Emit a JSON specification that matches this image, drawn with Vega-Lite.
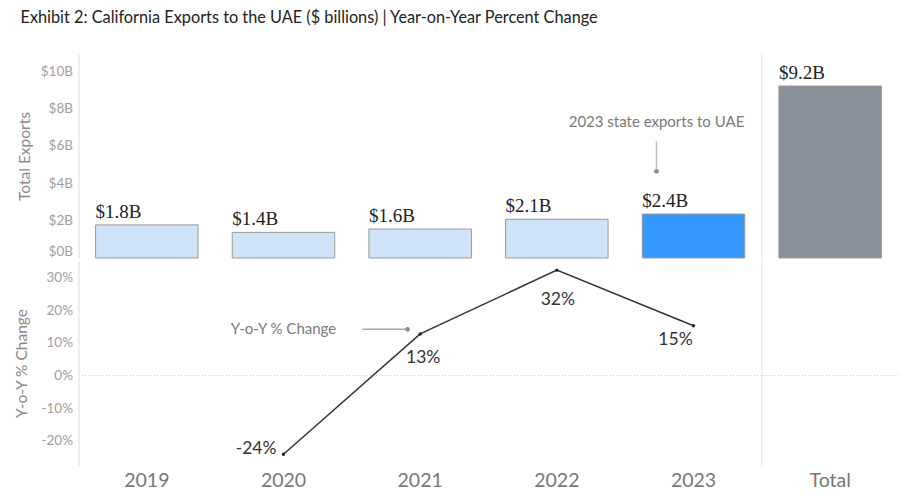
{
  "$schema": "https://vega.github.io/schema/vega-lite/v6.json",
  "padding": {"left": 13.5, "top": 10, "right": 0, "bottom": 3},
  "spacing": 0,
  "title": {
    "text": "Exhibit 2: California Exports to the UAE ($ billions) | Year-on-Year Percent Change",
    "anchor": "start",
    "offset": 27,
    "dx": 6.5,
    "font": "Lato",
    "fontSize": 16.3,
    "fontWeight": "normal",
    "color": "#222222"
  },
  "data": {
    "values": [
      {"year": "2019", "exports": 1.77, "label": "$1.8B"},
      {"year": "2020", "exports": 1.37, "label": "$1.4B", "pct": -24.1, "pctLabel": "-24%"},
      {"year": "2021", "exports": 1.55, "label": "$1.6B", "pct": 12.7, "pctLabel": "13%"},
      {"year": "2022", "exports": 2.07, "label": "$2.1B", "pct": 32.2, "pctLabel": "32%"},
      {"year": "2023", "exports": 2.35, "label": "$2.4B", "pct": 15.2, "pctLabel": "15%"},
      {"year": "Total", "exports": 9.2, "label": "$9.2B"}
    ]
  },
  "vconcat": [
    {
      "width": 820,
      "height": 204,
      "encoding": {
        "x": {
          "field": "year", "type": "nominal",
          "scale": {"type": "band", "domain": ["2019", "2020", "2021", "2022", "2023", "Total"], "paddingInner": 0.25, "paddingOuter": 0.125},
          "axis": null
        }
      },
      "layer": [
        {
          "transform": [{"filter": "datum.year == 'Total'"}],
          "mark": {"type": "rule", "color": "#e2e2e2", "strokeWidth": 1},
          "encoding": {
            "x": {"field": "year", "type": "nominal", "bandPosition": -0.1667, "axis": null}
          }
        },
        {
          "mark": {"type": "bar", "stroke": "#9a9a9a", "strokeWidth": 1},
          "encoding": {
            "y": {
              "field": "exports", "type": "quantitative",
              "scale": {"domain": [0, 10.91], "nice": false, "zero": true},
              "axis": {
                "values": [0, 2, 4, 6, 8, 10],
                "labelExpr": "'$' + datum.value + 'B'",
                "grid": false,
                "ticks": false,
                "domain": true,
                "domainColor": "#dddddd",
                "labelColor": "#a0a0a0",
                "labelFont": "Lato",
                "labelFontSize": 13.5,
                "labelPadding": 6,
                "labelFlush": true,
                "title": "Total Exports",
                "titleColor": "#8a8a8a",
                "titleFont": "Lato",
                "titleFontSize": 15.5,
                "titleFontWeight": "normal",
                "titlePadding": 8
              }
            },
            "fill": {
              "field": "year", "type": "nominal",
              "scale": {"domain": ["2019", "2020", "2021", "2022", "2023", "Total"], "range": ["#cfe2f8", "#cfe2f8", "#cfe2f8", "#cfe2f8", "#3497fb", "#8a9099"]},
              "legend": null
            }
          }
        },
        {
          "mark": {"type": "text", "align": "left", "baseline": "alphabetic", "dx": -51.25, "dy": -7, "font": "Liberation Serif", "fontSize": 19, "color": "#222222"},
          "encoding": {
            "y": {"field": "exports", "type": "quantitative"},
            "text": {"field": "label"}
          }
        },
        {
          "data": {"values": [{"year": "2023", "note": "2023 state exports to UAE"}]},
          "mark": {"type": "text", "align": "center", "baseline": "middle", "font": "Lato", "fontSize": 15, "color": "#7a7a7a"},
          "encoding": {
            "x": {"field": "year", "type": "nominal", "bandPosition": 0.139, "axis": null},
            "y": {"datum": 7.29, "type": "quantitative"},
            "text": {"field": "note"}
          }
        },
        {
          "data": {"values": [{"year": "2023"}]},
          "mark": {"type": "tick", "orient": "vertical", "color": "#a8a8a8", "thickness": 1.5, "size": 30},
          "encoding": {
            "x": {"field": "year", "type": "nominal", "bandPosition": 0.139, "axis": null},
            "y": {"datum": 5.45, "type": "quantitative"}
          }
        },
        {
          "data": {"values": [{"year": "2023"}]},
          "mark": {"type": "point", "filled": true, "size": 22, "color": "#8a8a8a", "opacity": 1},
          "encoding": {
            "x": {"field": "year", "type": "nominal", "bandPosition": 0.139, "axis": null},
            "y": {"datum": 4.64, "type": "quantitative"}
          }
        }
      ]
    },
    {
      "width": 820,
      "height": 206,
      "encoding": {
        "x": {
          "field": "year", "type": "nominal",
          "scale": {"type": "band", "domain": ["2019", "2020", "2021", "2022", "2023", "Total"], "paddingInner": 0.25, "paddingOuter": 0.125},
          "axis": {
            "orient": "bottom",
            "title": null,
            "labelAngle": 0,
            "domain": false,
            "ticks": false,
            "labelFont": "Lato",
            "labelFontSize": 19.5,
            "labelColor": "#777777",
            "labelPadding": 5
          }
        }
      },
      "layer": [
        {
          "transform": [{"filter": "datum.year == 'Total'"}],
          "mark": {"type": "rule", "color": "#e2e2e2", "strokeWidth": 1},
          "encoding": {
            "x": {"field": "year", "type": "nominal", "bandPosition": -0.1667}
          }
        },
        {
          "transform": [{"filter": "isValid(datum.pct)"}],
          "mark": {"type": "line", "color": "#333333", "strokeWidth": 1.5, "point": {"filled": true, "size": 12, "color": "#222222"}},
          "encoding": {
            "y": {
              "field": "pct", "type": "quantitative",
              "scale": {"domain": [-27.7, 35.3], "nice": false, "zero": false},
              "axis": {
                "values": [-20, -10, 0, 10, 20, 30],
                "labelExpr": "datum.value + '%'",
                "grid": true,
                "gridColor": "#cccccc",
                "gridDash": [1, 2],
                "gridOpacity": {"condition": {"test": "datum.value === 0", "value": 1}, "value": 0},
                "ticks": false,
                "domain": true,
                "domainColor": "#dddddd",
                "labelColor": "#a0a0a0",
                "labelFont": "Lato",
                "labelFontSize": 13.5,
                "labelPadding": 6,
                "title": "Y-o-Y % Change",
                "titleColor": "#8a8a8a",
                "titleFont": "Lato",
                "titleFontSize": 15.5,
                "titleFontWeight": "normal",
                "titlePadding": 12
              }
            }
          }
        },
        {
          "transform": [{"filter": "datum.year == '2020'"}],
          "mark": {"type": "text", "align": "right", "baseline": "middle", "dx": -7, "dy": -5, "font": "Lato", "fontSize": 17.5, "color": "#333333"},
          "encoding": {
            "y": {"field": "pct", "type": "quantitative"},
            "text": {"field": "pctLabel"}
          }
        },
        {
          "transform": [{"filter": "datum.year == '2021'"}],
          "mark": {"type": "text", "align": "center", "baseline": "middle", "dx": 3, "dy": 24, "font": "Lato", "fontSize": 17.5, "color": "#333333"},
          "encoding": {
            "y": {"field": "pct", "type": "quantitative"},
            "text": {"field": "pctLabel"}
          }
        },
        {
          "transform": [{"filter": "datum.year == '2022'"}],
          "mark": {"type": "text", "align": "center", "baseline": "middle", "dx": 1, "dy": 30, "font": "Lato", "fontSize": 17.5, "color": "#333333"},
          "encoding": {
            "y": {"field": "pct", "type": "quantitative"},
            "text": {"field": "pctLabel"}
          }
        },
        {
          "transform": [{"filter": "datum.year == '2023'"}],
          "mark": {"type": "text", "align": "center", "baseline": "middle", "dx": -18, "dy": 14, "font": "Lato", "fontSize": 17.5, "color": "#333333"},
          "encoding": {
            "y": {"field": "pct", "type": "quantitative"},
            "text": {"field": "pctLabel"}
          }
        },
        {
          "data": {"values": [{"year": "2020", "note": "Y-o-Y % Change"}]},
          "mark": {"type": "text", "align": "center", "baseline": "middle", "font": "Lato", "fontSize": 15, "color": "#7a7a7a"},
          "encoding": {
            "y": {"datum": 14.1, "type": "quantitative"},
            "text": {"field": "note"}
          }
        },
        {
          "data": {"values": [{"year": "2021"}]},
          "mark": {"type": "rule", "color": "#a8a8a8", "strokeWidth": 1.5},
          "encoding": {
            "x": {"field": "year", "type": "nominal", "bandPosition": -0.065},
            "x2": {"field": "year", "bandPosition": 0.377},
            "y": {"datum": 14.1, "type": "quantitative"}
          }
        },
        {
          "data": {"values": [{"year": "2021"}]},
          "mark": {"type": "point", "filled": true, "size": 22, "color": "#8a8a8a", "opacity": 1},
          "encoding": {
            "x": {"field": "year", "type": "nominal", "bandPosition": 0.377},
            "y": {"datum": 14.1, "type": "quantitative"}
          }
        }
      ]
    }
  ],
  "config": {
    "view": {"stroke": null},
    "font": "Lato"
  }
}
